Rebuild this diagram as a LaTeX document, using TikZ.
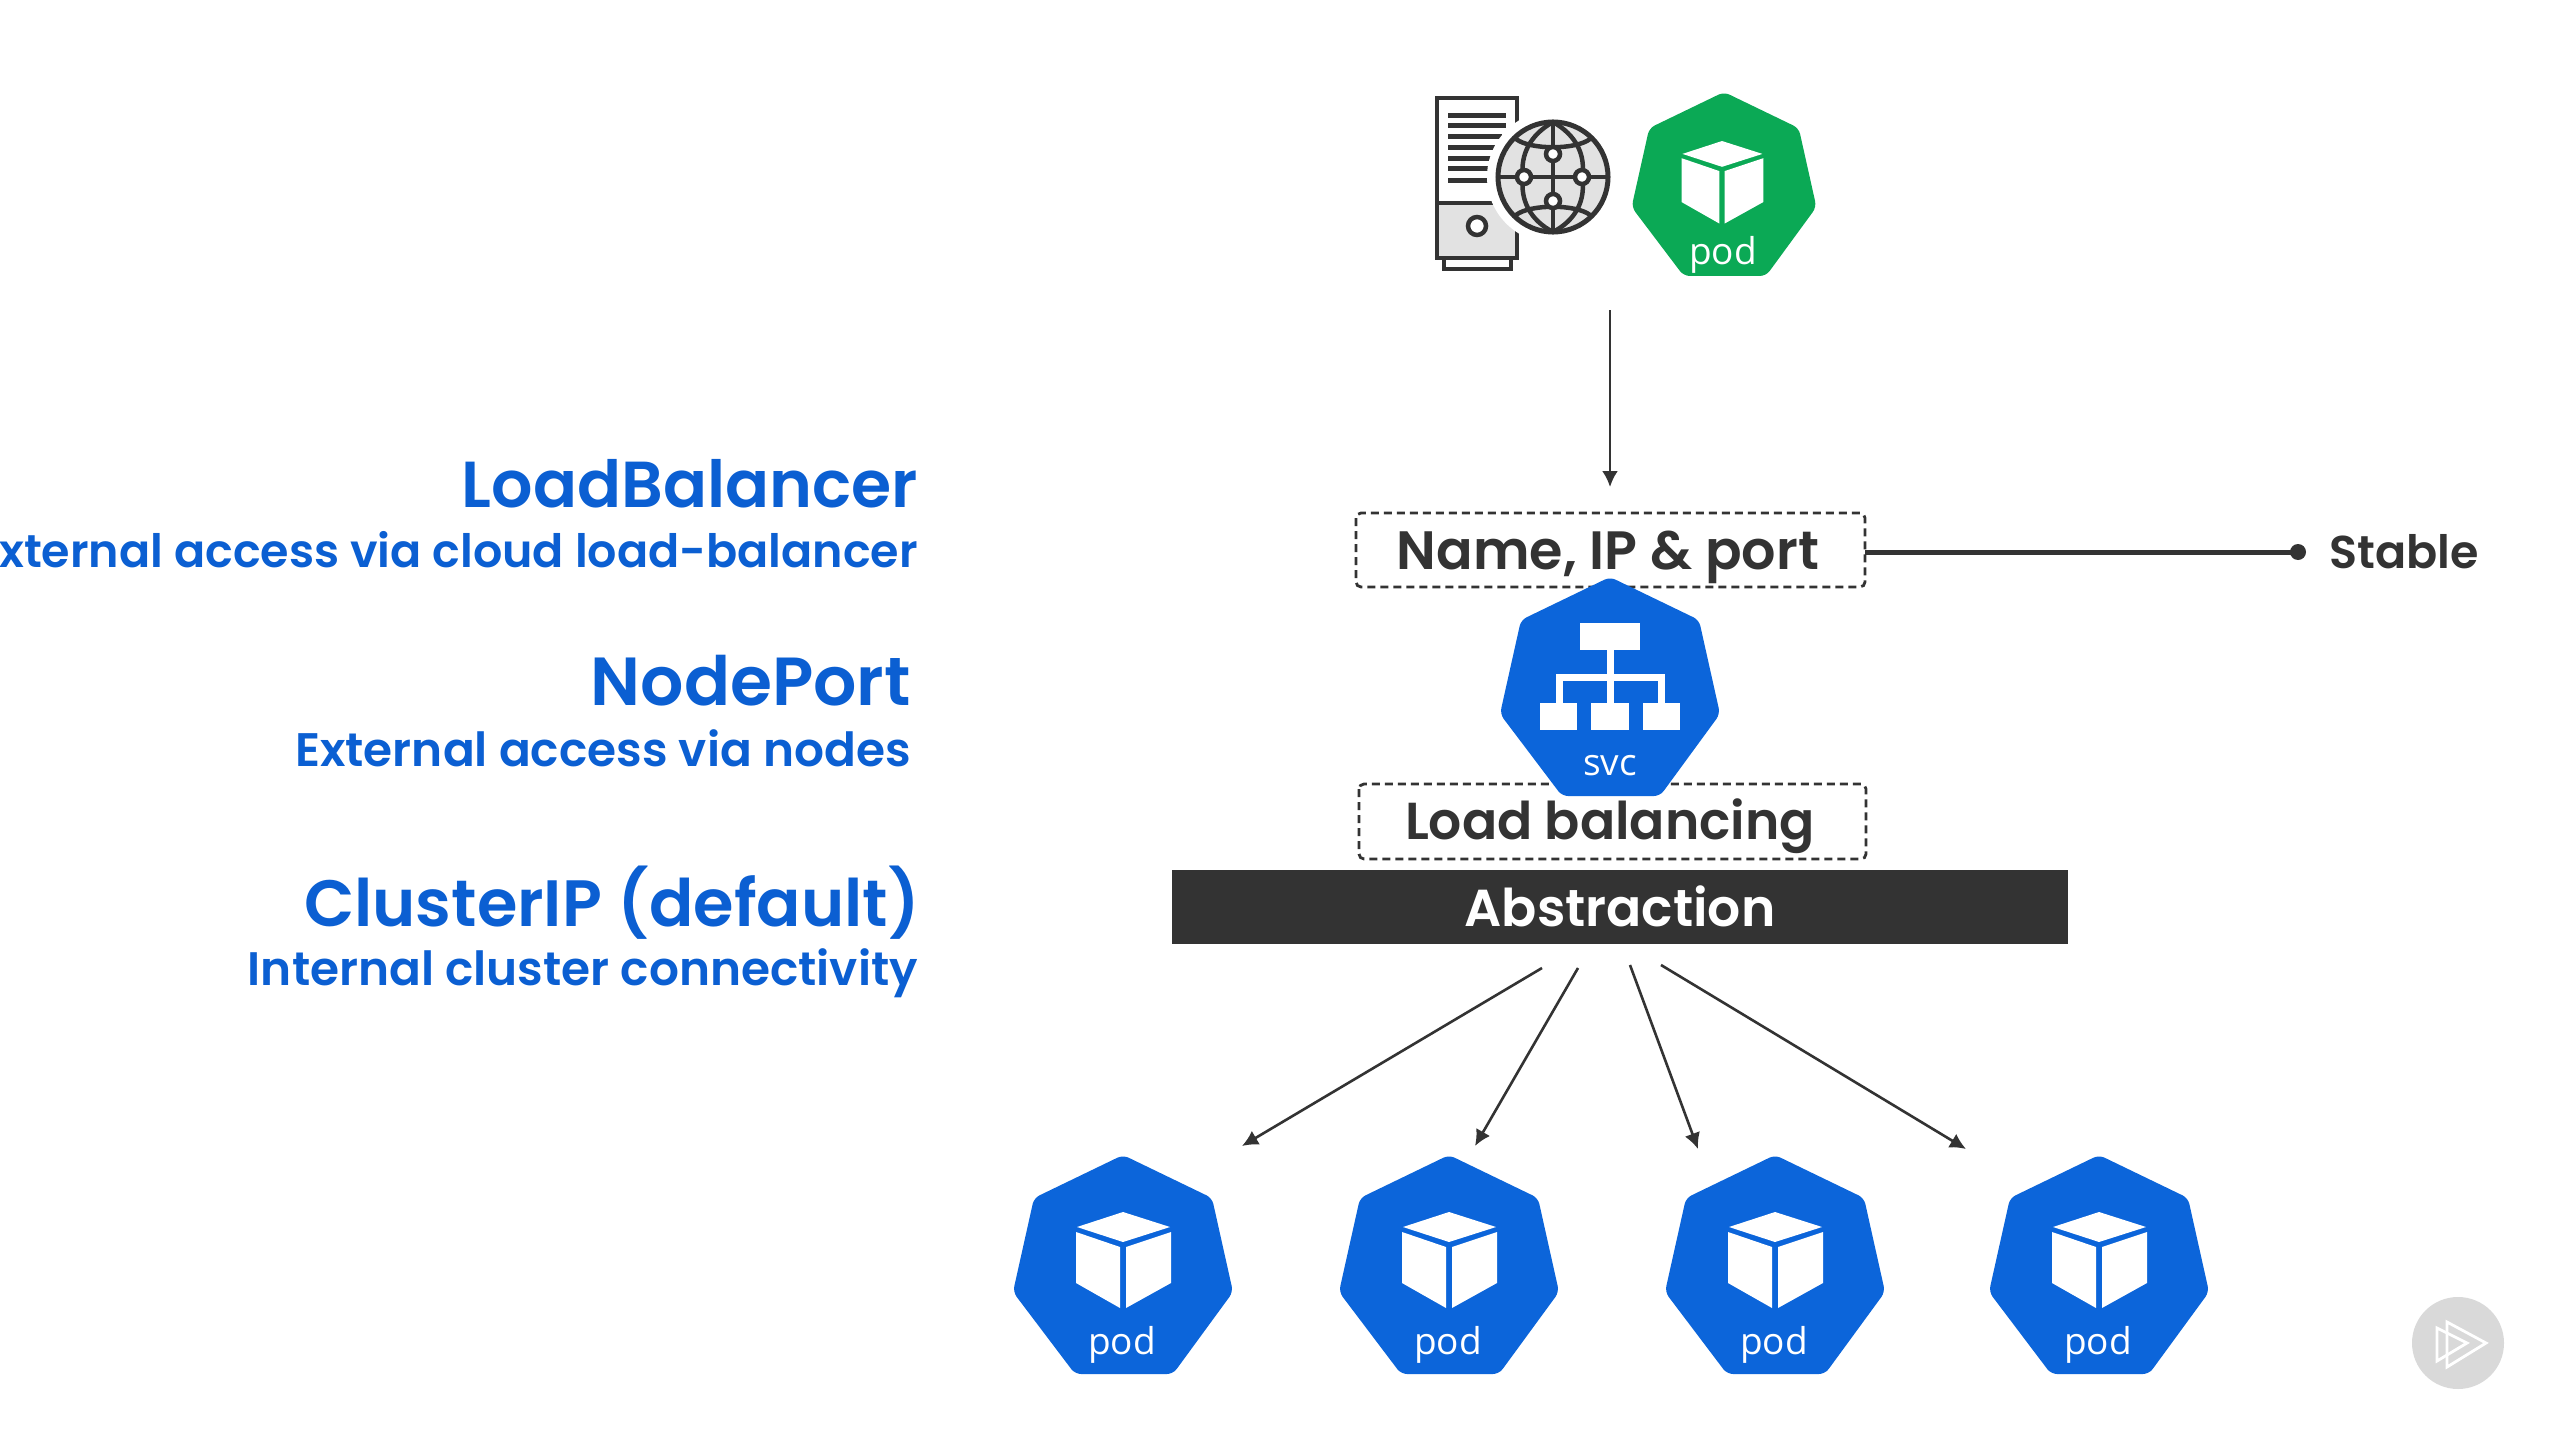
\documentclass[tikz,border=0pt]{standalone}
\usepackage{fontspec}
\usetikzlibrary{arrows.meta}
\setmainfont{Poppins SemiBold}
\newfontfamily\lightfont{Open Sans}
\definecolor{kblue}{HTML}{0C65DA}
\definecolor{tblue}{HTML}{0B5FD2}
\definecolor{kgreen}{HTML}{0BA955}
\definecolor{dark}{HTML}{333333}
\definecolor{soft}{HTML}{E2E2E2}
\tikzset{
  hept/.pic={
    \fill[pic actions, rounded corners=6] (0,0)--(89,43)--(110,137)--(50,219)--(-48,219)--(-110,137)--(-89,43)--cycle;
  },
  cube/.pic={
    \fill[white] (0,57)--(47,72)--(0,87)--(-46,72)--cycle;
    \fill[white] (-47,77)--(-3,92)--(-3,153)--(-47,128)--cycle;
    \fill[white] (3,92)--(48,77)--(48,128)--(3,153)--cycle;
  },
  dashbox/.style={draw=dark,line width=2.8pt,dash pattern=on 8pt off 5pt,rounded corners=5pt,fill=white,inner sep=0pt,text=dark},
  conn/.style={draw=dark,line width=2.6pt,-{Latex[length=16pt,width=16pt]}},
  hd/.style={anchor=east,text=tblue,inner sep=0pt},
  sb/.style={anchor=east,text=tblue,inner sep=0pt,font=\fontsize{47}{47}\selectfont},
  lbl/.style={text=dark,inner sep=0pt},
  podtxt/.style={text=white,inner sep=0pt,anchor=base,font=\lightfont\fontsize{37}{37}\selectfont},
  glob/.style={draw=dark,line width=4.5pt,line cap=round},
}
\begin{document}
\begin{tikzpicture}[x=1pt,y=-1pt]
\useasboundingbox[fill=white] (0,0) rectangle (2554,1434);

% left labels
\node[hd,font=\fontsize{65}{65}\selectfont] (t1) at (918,484) {LoadBalancer};
\node[sb,font=\fontsize{46}{46}\selectfont] (t2) at (918,550) {xternal access via cloud load-balancer};
\node[hd,font=\fontsize{68}{68}\selectfont] (t3) at (911,681) {NodePort};
\node[sb] (t4) at (911,748) {External access via nodes};
\node[hd,font=\fontsize{65.5}{66}\selectfont] (t5) at (920,903) {ClusterIP (default)};
\node[sb] (t6) at (918,973) {Internal cluster connectivity};

% server icon
\fill[white] (1437,98) rectangle (1517,258);
\fill[soft] (1437,203) rectangle (1517,258);
\draw[dark,line width=4.5pt] (1437,98) rectangle (1517,258);
\draw[dark,line width=4pt] (1444,258) rectangle (1511,269);
\draw[dark,line width=4.5pt] (1437,203)--(1493,203);
\foreach \yy/\xx in {116/1506,126/1506,137/1502,148/1495,159/1491,169/1490,181/1490}
  \draw[dark,line width=5pt] (1448,\yy)--(\xx,\yy);
\draw[dark,line width=4.5pt,fill=white] (1477,226) circle (9);
% globe
\fill[white] (1553,177) circle (66);
\draw[dark,line width=5pt,fill=soft] (1553,177) circle (55);
\draw[glob] (1498,177)--(1608,177);
\draw[glob] (1553,122)--(1553,232);
\draw[glob] (1553,122) .. controls (1530,135) and (1520,155) .. (1523,177) .. controls (1520,200) and (1530,220) .. (1553,232);
\draw[glob] (1553,122) .. controls (1576,135) and (1586,155) .. (1582,177) .. controls (1586,200) and (1576,220) .. (1553,232);
\draw[glob] (1516,139) .. controls (1530,150) and (1576,150) .. (1590,139);
\draw[glob] (1516,215) .. controls (1530,204) and (1576,204) .. (1590,215);
\foreach \px/\py in {1553/154,1524/177,1582/177,1553/201}
  \draw[dark,line width=4.5pt,fill=white] (\px,\py) circle (7);

% green pod
\pic[fill=kgreen,scale=0.84] at (1724,92) {hept};
\pic[scale=0.86] at (1722,92) {cube};
\node[podtxt] (gpod) at (1723,264) {pod};

% top arrow
\coordinate (tops) at (1610,310);
\coordinate (tope) at (1610,487);
\draw[conn] (tops)--(tope);

% boxes
\draw[dashbox] (1356,513) rectangle (1865,587);
\draw[dashbox] (1359,784) rectangle (1866,859);

% stable line
\coordinate (st0) at (1865,552);
\coordinate (st1) at (2298,552);
\draw[dark,line width=5pt] (st0)--(st1);
\fill[dark] (st1) circle (8);
\node[lbl,anchor=west,font=\fontsize{46}{46}\selectfont] (stable) at (2329,552) {Stable};

% svc
\begin{scope}[shift={(1610,577)}]
  \pic[fill=kblue] {hept};
  \fill[white] (-30,46) rectangle (30,73);
  \fill[white] (-3.5,73) rectangle (3.5,126);
  \fill[white] (-54,97) rectangle (55,104);
  \fill[white] (-54,97) rectangle (-47,126);
  \fill[white] (48,97) rectangle (55,126);
  \fill[white] (-70,126) rectangle (-33,153);
  \fill[white] (-19,126) rectangle (19,153);
  \fill[white] (33,126) rectangle (70,153);
\end{scope}
\node[podtxt] (svc) at (1610,775) {svc};

\node[lbl,font=\fontsize{54}{54}\selectfont] (name) at (1608,557) {Name, IP \& port};
\node[lbl,font=\fontsize{52}{52}\selectfont] (lb) at (1610,826) {Load balancing};

% abstraction
\node[fill=dark,minimum width=896pt,minimum height=74pt,inner sep=0pt,anchor=north west] (abs) at (1172,870) {};
\node[lbl,text=white,font=\fontsize{52}{52}\selectfont] (abst) at (1620,906) {Abstraction};

% arrows
\coordinate (a1s) at (1542,968); \coordinate (a1e) at (1242,1146);
\coordinate (a2s) at (1578,968); \coordinate (a2e) at (1475,1146);
\coordinate (a3s) at (1630,965); \coordinate (a3e) at (1698,1149);
\coordinate (a4s) at (1661,965); \coordinate (a4e) at (1966,1149);
\draw[conn] (a1s)--(a1e);
\draw[conn] (a2s)--(a2e);
\draw[conn] (a3s)--(a3e);
\draw[conn] (a4s)--(a4e);

% blue pods
\foreach \cx/\nm in {1123/p1,1449/p2,1775/p3,2099/p4}{
  \begin{scope}[shift={(\cx,1155)}]
    \pic[fill=kblue] {hept};
    \pic {cube};
  \end{scope}
  \node[podtxt] (\nm) at (\cx-1,1354) {pod};
}

% play badge
\fill[black!15] (2458,1343) circle (46);
\draw[white,line width=2.8pt] (2437,1328)--(2467,1343)--(2437,1361)--cycle;
\draw[white,line width=2.8pt] (2447,1322)--(2486,1343)--(2447,1367)--cycle;
\end{tikzpicture}
\end{document}
